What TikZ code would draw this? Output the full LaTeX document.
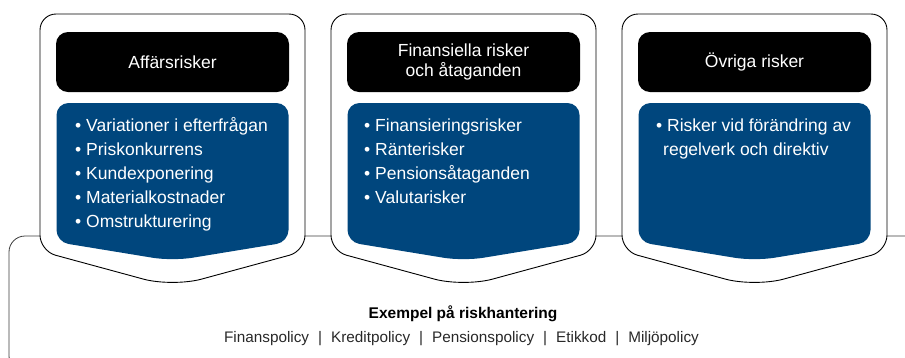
\documentclass[tikz,border=0pt]{standalone}
\usepackage{fontspec}
\setmainfont{Liberation Sans}
\definecolor{riskblue}{RGB}{0,70,125}
\definecolor{frameline}{RGB}{60,60,60}
\definecolor{foottext}{RGB}{40,40,40}
\begin{document}
\begin{tikzpicture}[x=1pt,y=-1pt,
  cardshape/.style={draw=black, line width=0.9pt, fill=white},
  headbox/.style={fill=black, rounded corners=12pt, minimum width=233pt, minimum height=60pt, inner sep=0pt,
    text=white, font=\fontsize{17.5}{19.5}\selectfont, align=center},
  bluebox/.style={fill=riskblue},
  itemtext/.style={text=white, font=\fontsize{17.5}{24}\selectfont, anchor=base west, inner sep=0pt},
  foothead/.style={font=\bfseries\fontsize{15.5}{18}\selectfont, anchor=base, inner sep=0pt},
  footline/.style={text=foottext, font=\fontsize{15.3}{18}\selectfont, anchor=base, inner sep=0pt},
  container/.style={draw=frameline, line width=0.8pt, rounded corners=16pt}
]
\useasboundingbox (0,0) rectangle (905,357);
\clip (0,0) rectangle (905,357);
% bottom container
\draw[container] (930,236) -- (9,236) -- (9,372) -- (930,372);
% cards
\foreach \cx in {172.5,463.5,754.5}{
  \draw[cardshape, rounded corners=16pt] (\cx,14) -- (\cx+132.5,14) -- (\cx+132.5,251)
     [rounded corners=30pt] -- (\cx,287) [rounded corners=16pt] -- (\cx-132.5,251) -- (\cx-132.5,14) -- cycle;
  \fill[bluebox, rounded corners=12pt] (\cx,103) -- (\cx+116,103) -- (\cx+116,242)
     [rounded corners=20pt] -- (\cx,261) [rounded corners=12pt] -- (\cx-116,242) -- (\cx-116,103) -- cycle;
}
% headers
\node[headbox] (h1) at (172.5,62) {Affärsrisker};
\node[headbox] (h2) at (463.5,62) {Finansiella risker\\och åtaganden};
\node[headbox] (h3) at (754.5,62) {Övriga risker};
% card 1 items
\foreach \t [count=\i] in {Variationer i efterfrågan,Priskonkurrens,Kundexponering,Materialkostnader,Omstrukturering}{
  \node[itemtext] (a\i) at (75,107+24*\i) {\textbullet\ \t};
}
% card 2 items
\foreach \t [count=\i] in {Finansieringsrisker,Ränterisker,Pensionsåtaganden,Valutarisker}{
  \node[itemtext] (b\i) at (364,107+24*\i) {\textbullet\ \t};
}
% card 3 items
\node[itemtext] (c1) at (656,131) {\textbullet\ Risker vid förändring av};
\node[itemtext] (c2) at (663,155) {regelverk och direktiv};
% footer
\node[foothead] (fh) at (463,318) {Exempel på riskhantering};
\node[footline] (fl) at (461.5,342) {Finanspolicy\hspace{9pt}|\hspace{9pt}Kreditpolicy\hspace{9pt}|\hspace{9pt}Pensionspolicy\hspace{9pt}|\hspace{9pt}Etikkod\hspace{9pt}|\hspace{9pt}Miljöpolicy};
\end{tikzpicture}
\end{document}
